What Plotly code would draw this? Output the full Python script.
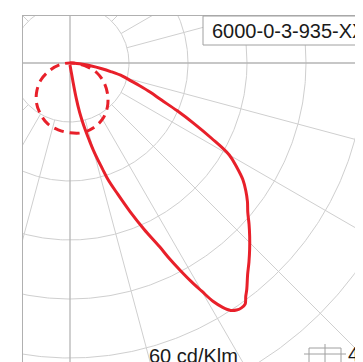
import numpy as np
import plotly.graph_objects as go

# ---------------- data (cd/klm) ----------------
gamma_main = [0, 5, 8, 9, 10, 11, 12, 13, 14, 15, 16, 17, 18, 20, 22, 24, 26, 27, 28, 29, 30,
              31, 32, 33, 34, 35, 36, 37, 38, 40, 42, 44, 46, 48, 50, 52, 54, 56, 58, 60,
              62, 64, 66, 68, 70, 72, 74, 76, 78, 80, 82, 84, 86, 88, 90]
intensity_main = [2, 4, 10, 18, 36, 51, 61, 71, 81, 92, 102, 112, 124, 142, 163, 185, 208, 224, 239, 254, 268,
                  283, 293, 300, 303, 304, 303, 297, 292, 281, 272, 263, 254, 245, 236, 229, 221, 212, 200, 187,
                  163, 140, 119, 100, 87, 74, 63, 55, 43, 32, 22, 13, 7, 3, 0]

gamma_dash = [-90, -80, -70, -60, -50, -40, -30, -20, -10, 0, 10, 20, 30, 40, 50, 60, 70, 80, 90]
intensity_dash = [0, 11, 22, 34, 44, 53, 60, 66, 69, 71, 72, 70, 66, 59, 50, 40, 29, 15, 0]

circle_levels = [60, 120, 180, 240, 300, 360, 420]
radial_angles = list(range(0, 360, 15))

product_code = "6000-0-3-935-XX"
scale_text = "60 cd/Klm"
legend_text = "45"

# ---------------- layout geometry ----------------
PAGE_OFF = 8               # default body margin of the page
W, H = 363 - PAGE_OFF, 362 - PAGE_OFF
ML, MT = 23 - PAGE_OFF, 16 - PAGE_OFF
PW, PH = W - ML, H - MT
CX, CY = 47, 47            # pole position inside plot area (px)
K = 59 / 60                # px per cd/klm

xr = [-CX / K, (PW - CX) / K]
yr = [-(PH - CY) / K, CY / K]


def polar_xy(g, i):
    g = np.radians(np.asarray(g, float))
    i = np.asarray(i, float)
    return i * np.sin(g), -i * np.cos(g)


def px(xp):   # page pixel -> paper x
    return (xp - PAGE_OFF - ML) / PW


def py(yp):   # page pixel -> paper y
    return 1 - (yp - PAGE_OFF - MT) / PH


fig = go.Figure()
grid = dict(color="#cfcfcf", width=1)
t = np.linspace(0, 2 * np.pi, 721)
for lv in circle_levels:
    fig.add_trace(go.Scatter(x=lv * np.cos(t), y=lv * np.sin(t), mode="lines",
                             line=grid, hoverinfo="skip"))
for a in radial_angles:
    if a % 90 == 0:
        continue
    x, y = polar_xy([a, a], [circle_levels[0], 1000])
    fig.add_trace(go.Scatter(x=x, y=y, mode="lines", line=grid, hoverinfo="skip"))

axis_line = dict(color="#b5b5b5", width=1.3)
fig.add_trace(go.Scatter(x=[0, 0], y=[-1000, 1000], mode="lines", line=axis_line, hoverinfo="skip"))
fig.add_trace(go.Scatter(x=[-1000, 1000], y=[0, 0], mode="lines", line=axis_line, hoverinfo="skip"))

xd, yd = polar_xy(gamma_dash, intensity_dash)
fig.add_trace(go.Scatter(x=xd, y=yd, mode="lines", line_shape="spline",
                         line=dict(color="#e8202a", width=3, dash="10px,6px")))

xm, ym = polar_xy(gamma_main, intensity_main)
fig.add_trace(go.Scatter(x=xm, y=ym, mode="lines", line_shape="spline",
                         line=dict(color="#e8202a", width=3)))

shapes = [
    dict(type="rect", xref="paper", yref="paper", x0=px(203), x1=px(420), y0=py(45), y1=py(16),
         line=dict(color="#a0a0a0", width=1), fillcolor="white", layer="above"),
    dict(type="rect", xref="paper", yref="paper", x0=px(309), x1=px(341), y0=py(375), y1=py(348),
         line=dict(color="#a0a0a0", width=1), fillcolor="white", layer="above"),
    dict(type="line", xref="paper", yref="paper", x0=px(325), x1=px(325), y0=py(344), y1=py(362),
         line=dict(color="#a0a0a0", width=1), layer="above"),
    dict(type="line", xref="paper", yref="paper", x0=px(304), x1=px(346), y0=py(354), y1=py(354),
         line=dict(color="#a0a0a0", width=1), layer="above"),
]

annotations = [
    dict(text=product_code, xref="paper", yref="paper", x=px(210), y=py(30.5),
         xanchor="left", yanchor="middle", showarrow=False,
         font=dict(family="Liberation Sans, Arial", size=20, color="#1a1a1a")),
    dict(text=scale_text, xref="paper", yref="paper", x=px(147), y=py(356),
         xanchor="left", yanchor="middle", showarrow=False,
         font=dict(family="Liberation Sans, Arial", size=20, color="#1a1a1a")),
    dict(text=legend_text, xref="paper", yref="paper", x=px(346), y=py(354),
         xanchor="left", yanchor="middle", showarrow=False,
         font=dict(family="Liberation Sans, Arial", size=20, color="#1a1a1a")),
]

fig.update_layout(
    width=W, height=H,
    margin=dict(l=ML, r=0, t=MT, b=0, pad=0),
    paper_bgcolor="white", plot_bgcolor="white",
    showlegend=False,
    shapes=shapes, annotations=annotations,
    xaxis=dict(range=xr, side="top", showline=True, linecolor="#b0b0b0", linewidth=1,
               showgrid=False, zeroline=False, showticklabels=False, ticks="", fixedrange=True),
    yaxis=dict(range=yr, showline=True, linecolor="#b0b0b0", linewidth=1,
               showgrid=False, zeroline=False, showticklabels=False, ticks="", fixedrange=True),
)

fig.write_html("out.html")
